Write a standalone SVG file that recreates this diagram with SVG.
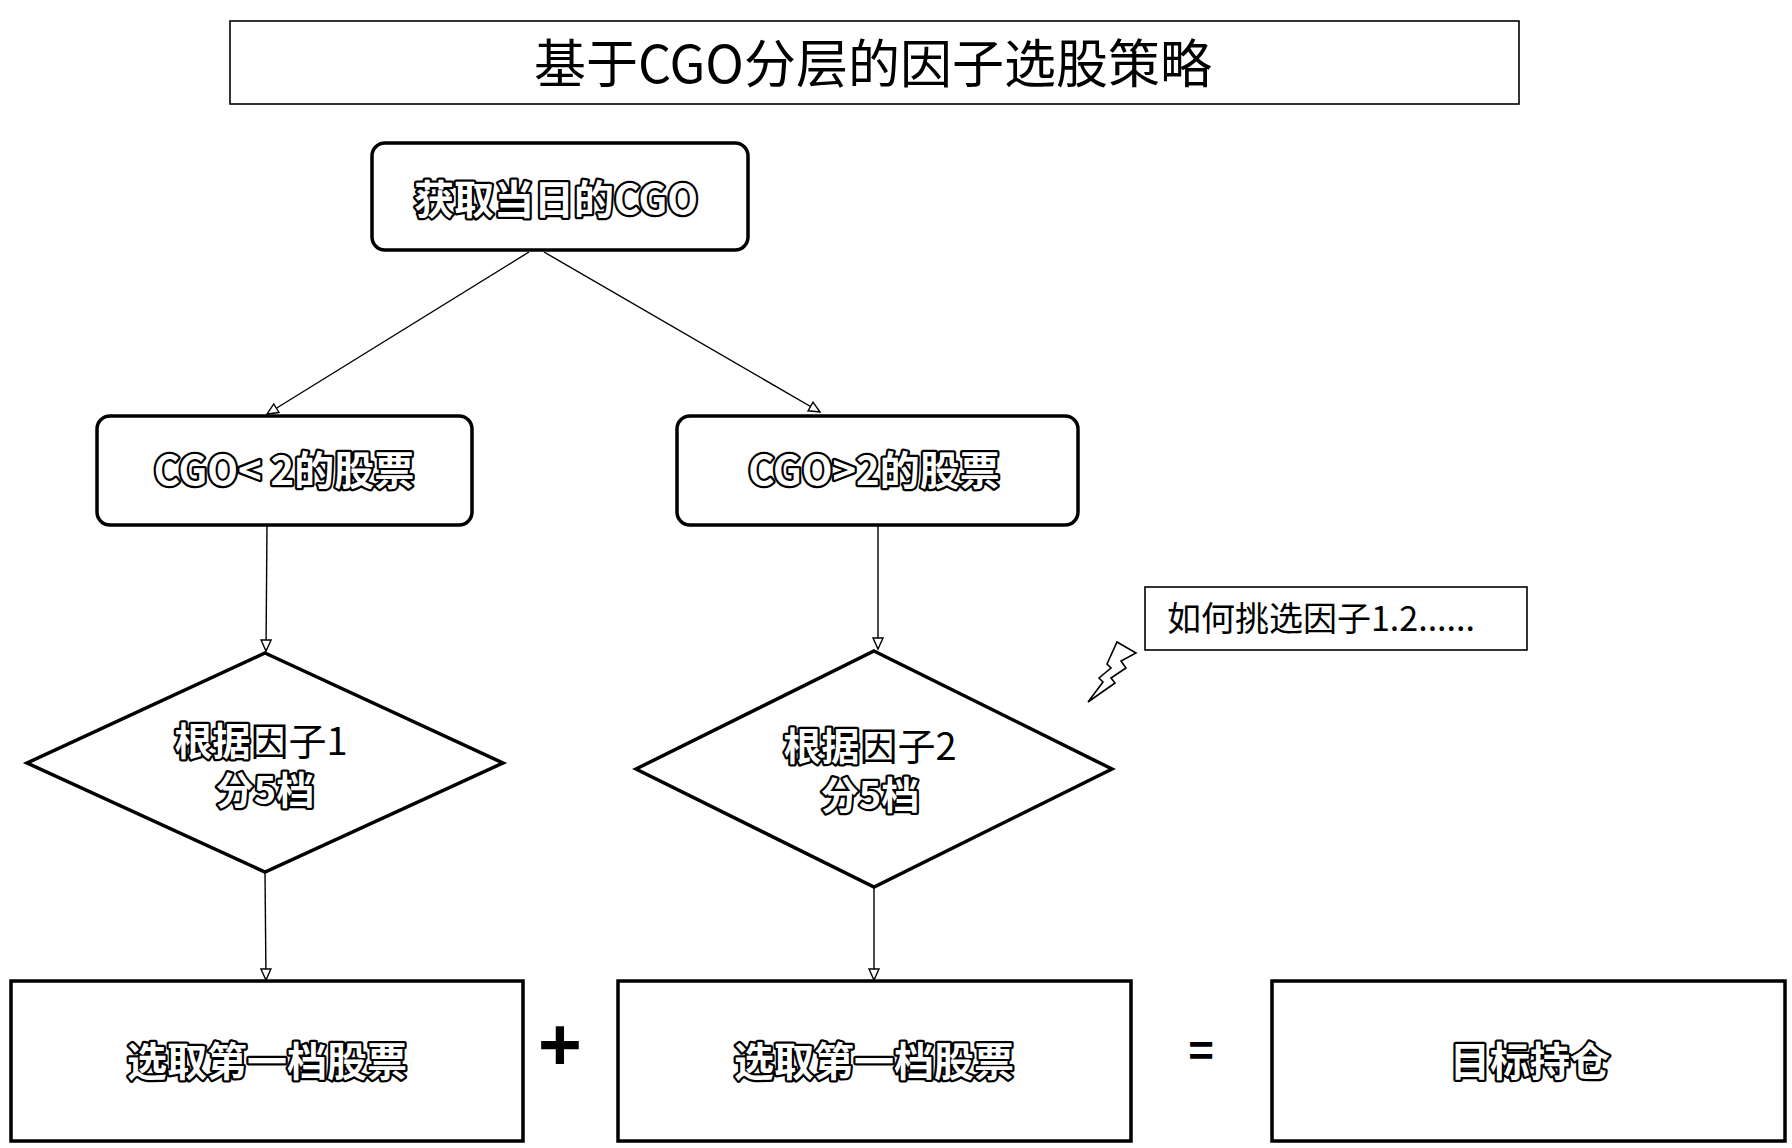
<svg xmlns="http://www.w3.org/2000/svg" width="1792" height="1148" viewBox="0 0 1792 1148">
<style>
.box{fill:#fff;stroke:#000;stroke-width:3.5}
.thin{fill:#fff;stroke:#000;stroke-width:1.6}
.t{font-family:"Noto Sans CJK SC","Noto Sans",sans-serif;text-anchor:middle}
.o{font-weight:bold;fill:#fff;stroke:#000;stroke-width:4.5;paint-order:stroke;stroke-linejoin:round}
.p{fill:#000}
.c{fill:none;stroke:#000;stroke-width:1.4}
</style>
<defs>
<marker id="ah" markerUnits="userSpaceOnUse" markerWidth="14" markerHeight="14" refX="12" refY="6" orient="auto">
<path d="M1,1 L12,6 L1,11 Z" fill="#fff" stroke="#000" stroke-width="1.4"/>
</marker>
</defs>
<rect width="1792" height="1148" fill="#fff"/>
<g id="title">
<rect class="thin" x="230" y="21" width="1289" height="83"/>
<text class="t p" x="873" y="83" font-size="52">基于CGO分层的因子选股策略</text>
</g>
<g id="connectors">
<line class="c" x1="529" y1="252" x2="267" y2="414" marker-end="url(#ah)"/>
<line class="c" x1="544" y1="252" x2="820" y2="412" marker-end="url(#ah)"/>
<line class="c" x1="267" y1="525" x2="266" y2="651" marker-end="url(#ah)"/>
<line class="c" x1="878" y1="525" x2="878" y2="649" marker-end="url(#ah)"/>
<line class="c" x1="265" y1="872" x2="266" y2="980" marker-end="url(#ah)"/>
<line class="c" x1="874" y1="887" x2="874" y2="980" marker-end="url(#ah)"/>
</g>
<g id="n_get">
<rect class="box" x="372" y="143" width="376" height="107" rx="13"/>
<text class="t o" x="556" y="214" font-size="40">获取当日的CGO</text>
</g>
<g id="n_low">
<rect class="box" x="97" y="416" width="375" height="109" rx="13"/>
<text class="t o" x="284" y="485" font-size="40">CGO&lt; 2的股票</text>
</g>
<g id="n_high">
<rect class="box" x="677" y="416" width="401" height="109" rx="13"/>
<text class="t o" x="874" y="485" font-size="40">CGO&gt;2的股票</text>
</g>
<g id="d1">
<polygon class="box" points="265,653 503,763 265,872 27,763"/>
<text class="t" x="261" y="755" font-size="38"><tspan class="o">根据</tspan><tspan class="p">因子1</tspan></text>
<text class="t o" x="265" y="804" font-size="38">分5档</text>
</g>
<g id="d2">
<polygon class="box" points="874,651 1112,769 874,887 636,769"/>
<text class="t" x="870" y="760" font-size="38"><tspan class="o">根据</tspan><tspan class="p">因子2</tspan></text>
<text class="t o" x="870" y="809" font-size="38">分5档</text>
</g>
<g id="note">
<rect class="thin" x="1145" y="587" width="382" height="63"/>
<text font-family="Noto Sans CJK SC, Noto Sans, sans-serif" x="1167" y="631" font-size="34" fill="#000">如何挑选因子1.2......</text>
<polygon fill="#fff" stroke="#000" stroke-width="1.6" stroke-linejoin="miter" points="1117,642 1136,653 1121,661 1126,668 1111,678 1115,683 1088,702 1103,682 1099,678 1111,668 1107,664"/>
</g>
<g id="b1">
<rect class="box" x="11" y="981" width="512" height="160"/>
<text class="t o" x="267" y="1076" font-size="40">选取第一档股票</text>
</g>
<g id="plus">
<text font-family="Liberation Sans, sans-serif" font-weight="bold" x="560" y="1070" font-size="75" text-anchor="middle" fill="#000">+</text>
</g>
<g id="b2">
<rect class="box" x="618" y="981" width="513" height="160"/>
<text class="t o" x="874" y="1076" font-size="40">选取第一档股票</text>
</g>
<g id="eq">
<text font-family="Liberation Sans, sans-serif" font-weight="bold" x="1201" y="1066" font-size="44" text-anchor="middle" fill="#000">=</text>
</g>
<g id="b3">
<rect class="box" x="1272" y="981" width="513" height="160"/>
<text class="t o" x="1530" y="1076" font-size="40">目标持仓</text>
</g>
</svg>
